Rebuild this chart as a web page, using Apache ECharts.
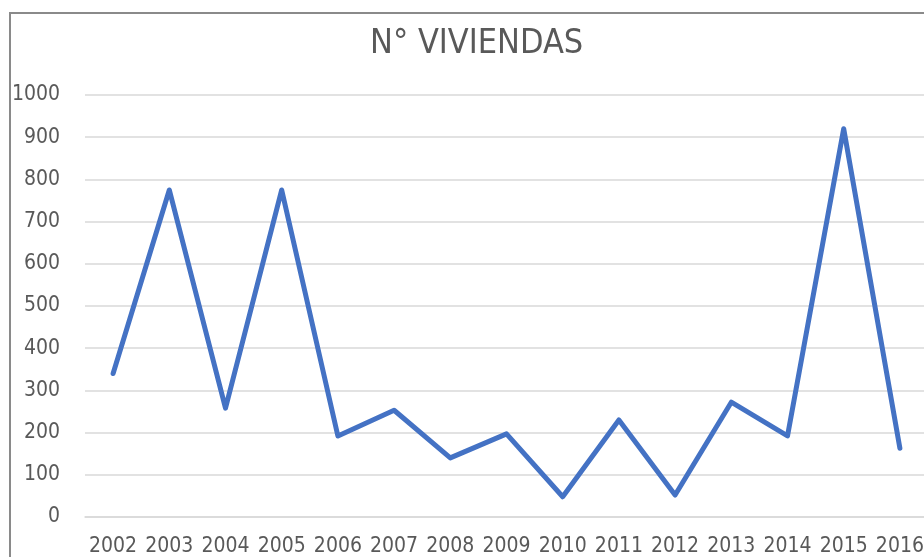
<!DOCTYPE html>
<html>
<head>
<meta charset="utf-8">
<title>N° VIVIENDAS</title>
<script src="https://cdn.jsdelivr.net/npm/echarts@6/dist/echarts.min.js"></script>
<style>
  html, body { margin: 0; padding: 0; background: #fff; }
  #chart { width: 924px; height: 557px; }
</style>
</head>
<body>
<div id="chart"></div>
<script>
// Housing units per year
const years = ['2002', '2003', '2004', '2005', '2006', '2007', '2008', '2009',
               '2010', '2011', '2012', '2013', '2014', '2015', '2016'];
const viviendas = [340, 775, 258, 775, 192, 253, 140, 197, 48, 230, 52, 272, 192, 920, 163];
const yTicks = [0, 100, 200, 300, 400, 500, 600, 700, 800, 900, 1000];

const FONT = "'Liberation Sans Narrow', 'DejaVu Sans Condensed', 'Noto Sans', sans-serif";
const TEXT = '#595959';

const chart = echarts.init(document.getElementById('chart'), null, { renderer: 'canvas' });

chart.setOption({
  animation: false,
  backgroundColor: '#ffffff',
  title: {
    text: 'N° VIVIENDAS',
    left: 365,
    top: 22,
    textStyle: { fontFamily: FONT, fontSize: 34, fontWeight: 'normal', color: TEXT }
  },
  graphic: [{
    type: 'rect',
    silent: true,
    z: 100,
    shape: { x: 10, y: 13, width: 1000, height: 1000 },
    style: { fill: 'none', stroke: '#8a8a8a', lineWidth: 2 }
  }],
  grid: {
    left: 85, right: -4, top: 95, bottom: 40,
    containLabel: false,
    outerBoundsMode: 'none'
  },
  xAxis: {
    type: 'category',
    data: years,
    boundaryGap: true,
    axisLine: { show: true, lineStyle: { color: '#d9d9d9', width: 1.5 } },
    axisTick: { show: false },
    axisLabel: {
      interval: 0,
      hideOverlap: false,
      margin: 19,
      fontFamily: FONT,
      fontSize: 21,
      color: TEXT
    }
  },
  yAxis: {
    type: 'value',
    min: yTicks[0],
    max: yTicks[yTicks.length - 1],
    interval: yTicks[1] - yTicks[0],
    axisLine: { show: false },
    axisTick: { show: false },
    splitLine: { show: true, lineStyle: { color: '#d9d9d9', width: 1.5 } },
    axisLabel: {
      margin: 25,
      fontFamily: FONT,
      fontSize: 21,
      color: TEXT,
      formatter: (v) => String(v)
    }
  },
  series: [{
    name: 'N° VIVIENDAS',
    type: 'line',
    data: viviendas,
    symbol: 'none',
    lineStyle: { color: '#4472C4', width: 5, cap: 'round', join: 'round' }
  }]
});
</script>
</body>
</html>
